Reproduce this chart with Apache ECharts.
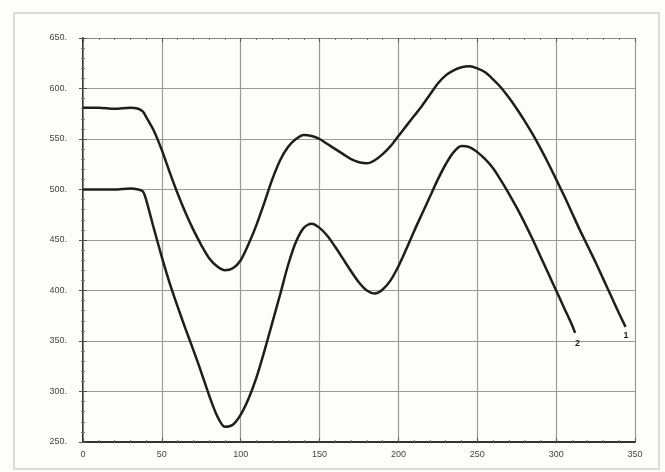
<!DOCTYPE html>
<html>
<head>
<meta charset="utf-8">
<script src="https://cdn.jsdelivr.net/npm/echarts@6/dist/echarts.min.js"></script>
<style>
html, body { margin: 0; padding: 0; background: #fdfdfb; }
#chart { width: 665px; height: 472px; }
</style>
</head>
<body>
<div id="chart"></div>
<script>
// кривая 1 (верхняя)
var xs1 = [0, 10, 20, 30, 35, 38, 40, 45, 50, 55, 60, 65, 70, 75, 80, 85, 90, 95, 100, 105, 110, 115, 120, 125, 130, 135, 140, 145, 150, 155, 160, 165, 170, 175, 180, 185, 190, 195, 200, 205, 210, 215, 220, 225, 230, 235, 240, 245, 250, 255, 260, 265, 270, 275, 280, 285, 290, 295, 300, 305, 310, 315, 320, 325, 330, 335, 340, 344];
var ys1 = [581, 581, 580, 581, 580, 577, 572, 558, 539, 517, 496, 477, 460, 445, 432, 424, 420, 422, 430, 446, 465, 487, 510, 529, 542, 550, 554, 553, 550, 545, 540, 535, 530, 527, 526, 529, 535, 543, 553, 563, 573, 583, 594, 605, 613, 618, 621, 622, 620, 616, 609, 601, 591, 580, 568, 555, 541, 526, 510, 494, 477, 460, 444, 428, 411, 394, 377, 364];
// кривая 2 (нижняя)
var xs2 = [0, 10, 20, 30, 35, 38, 40, 45, 50, 55, 60, 65, 70, 75, 80, 85, 90, 95, 100, 105, 110, 115, 120, 125, 130, 135, 140, 145, 150, 155, 160, 165, 170, 175, 180, 185, 190, 195, 200, 205, 210, 215, 220, 225, 230, 235, 240, 245, 250, 255, 260, 265, 270, 275, 280, 285, 290, 295, 300, 305, 310, 312];
var ys2 = [500, 500, 500, 501, 500, 498, 490, 461, 433, 407, 384, 362, 341, 319, 296, 276, 265, 267, 277, 293, 314, 340, 368, 396, 425, 448, 462, 466, 462, 454, 443, 431, 419, 408, 400, 397, 401, 410, 424, 441, 459, 476, 493, 510, 525, 537, 543, 542, 537, 530, 521, 509, 496, 482, 467, 451, 434, 417, 400, 383, 366, 358];
var curveNames = ['1', '2'];

function pairs(xs, ys) {
	var out = [];
	for (var i = 0; i < xs.length; i++) {
		out.push([xs[i], ys[i]]);
	}
	return out;
}

var chart = echarts.init(document.getElementById('chart'));

var tickStyle = { show: true, inside: true, length: 4, lineStyle: { color: '#555', width: 1 } };
var minorStyle = { show: true, splitNumber: 5, length: 2, lineStyle: { color: '#777', width: 1 } };

var option = {
	backgroundColor: '#fdfdfb',
	animation: false,
	graphic: [{
		type: 'rect',
		shape: { x: 14, y: 13, width: 645, height: 456 },
		style: { fill: 'none', stroke: '#d0d0d0', lineWidth: 1.5 }
	}],
	grid: { left: 83, right: 30, top: 38, bottom: 30 },
	xAxis: [{
		type: 'value', min: 0, max: 350, interval: 50,
		axisLine: { show: true, lineStyle: { color: '#333', width: 2 } },
		axisTick: tickStyle,
		minorTick: minorStyle,
		axisLabel: { color: '#444', fontSize: 9, fontFamily: 'Liberation Sans', margin: 8 },
		splitLine: { show: true, lineStyle: { color: '#9a9a9a', width: 1.2 } }
	}, {
		type: 'value', min: 0, max: 350, interval: 50, position: 'top',
		axisLine: { show: true, lineStyle: { color: '#888', width: 1 } },
		axisTick: tickStyle,
		minorTick: minorStyle,
		axisLabel: { show: false },
		splitLine: { show: false }
	}],
	yAxis: [{
		type: 'value', min: 250, max: 650, interval: 50,
		axisLine: { show: true, lineStyle: { color: '#333', width: 2 } },
		axisTick: tickStyle,
		minorTick: minorStyle,
		axisLabel: {
			color: '#444', fontSize: 9, fontFamily: 'Liberation Sans', margin: 16,
			formatter: function (v) { return v + '.'; }
		},
		splitLine: { show: true, lineStyle: { color: '#9a9a9a', width: 1.2 } }
	}, {
		type: 'value', min: 250, max: 650, interval: 50, position: 'right',
		axisLine: { show: true, lineStyle: { color: '#888', width: 1 } },
		axisTick: tickStyle,
		minorTick: minorStyle,
		axisLabel: { show: false },
		splitLine: { show: false }
	}],
	series: [{
		name: curveNames[0],
		type: 'line',
		smooth: 0.3,
		symbol: 'none',
		data: pairs(xs1, ys1),
		lineStyle: { color: '#1e1e1e', width: 2.5 },
		endLabel: {
			show: true, formatter: curveNames[0], color: '#222', fontSize: 9,
			fontWeight: 'bold', offset: [-10, 9]
		}
	}, {
		name: curveNames[1],
		type: 'line',
		smooth: 0.3,
		symbol: 'none',
		data: pairs(xs2, ys2),
		lineStyle: { color: '#1e1e1e', width: 2.5 },
		endLabel: {
			show: true, formatter: curveNames[1], color: '#222', fontSize: 9,
			fontWeight: 'bold', offset: [-8, 11]
		}
	}]
};
chart.setOption(option);
</script>
</body>
</html>
